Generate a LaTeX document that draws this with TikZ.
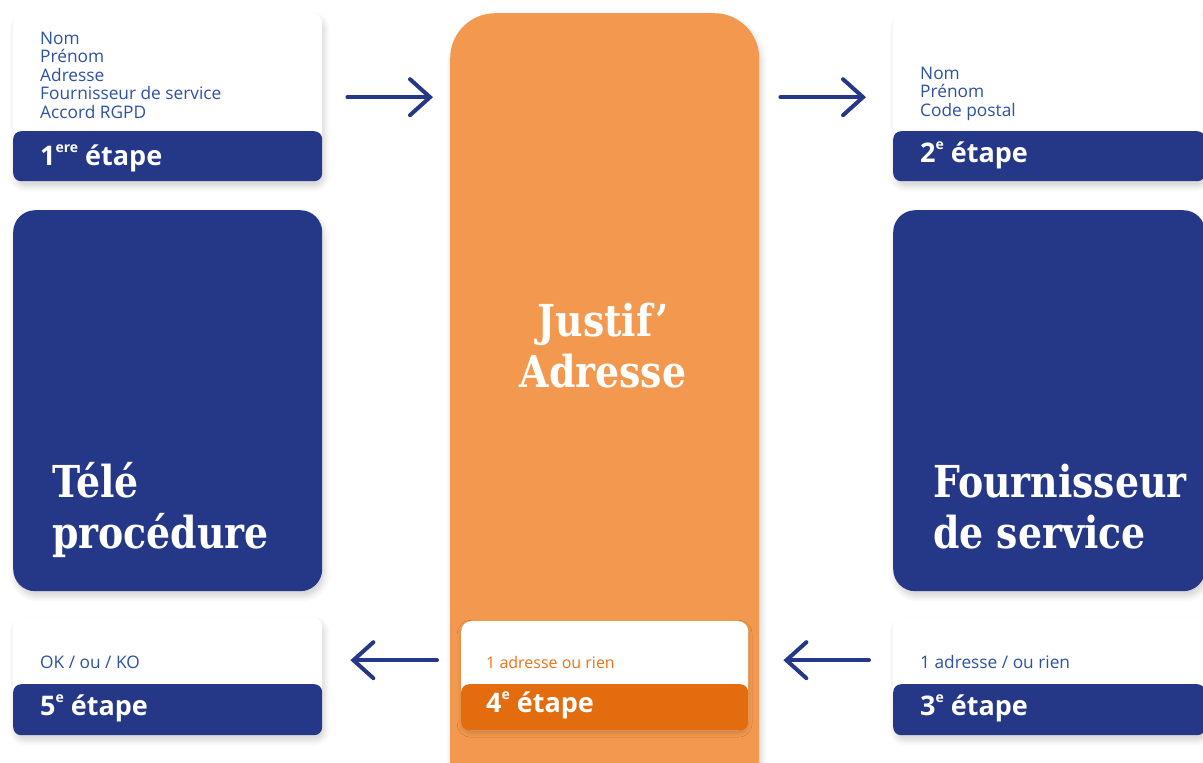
\documentclass[tikz,border=0pt]{standalone}
\usepackage{fontspec}
\setmainfont{Open Sans}
\newfontfamily\slab[FakeStretch=0.86]{DejaVu Serif}
\usetikzlibrary{arrows.meta,shadows.blur}
\definecolor{navy}{HTML}{253887}
\definecolor{orangebg}{HTML}{F2994F}
\definecolor{orangedk}{HTML}{E26C0E}
\definecolor{textblue}{HTML}{2D51A3}
\definecolor{textorange}{HTML}{E8731A}
\newcommand{\supx}[1]{\raisebox{0.45em}{\fontsize{14}{14}\selectfont #1}}
\tikzset{
  sh/.style={blur shadow={shadow blur steps=6, shadow xshift=2pt, shadow yshift=-5pt, shadow opacity=18, shadow blur radius=6pt}},
  card/.style={fill=white, rounded corners=10pt, inner sep=0pt, anchor=north west, sh},
  foot/.style={fill=navy, rounded corners=8pt, inner sep=0pt, anchor=north west},
  bigbox/.style={fill=navy, rounded corners=22pt, inner sep=0pt, anchor=north west, sh},
  info/.style={text=textblue, font=\fontsize{17.3}{18.4}\selectfont, align=left, anchor=base west, inner sep=0pt},
  steplabel/.style={text=white, font=\bfseries\fontsize{27}{28}\selectfont, anchor=base west, inner sep=0pt},
  title/.style={text=white, font=\slab\bfseries\fontsize{44}{50.5}\selectfont, inner sep=0pt},
  arr/.style={draw=navy, line width=4pt, line cap=round, -{Straight Barb[length=20pt,width=36pt,line cap=round]}}
}
\begin{document}
\begin{tikzpicture}[x=1pt,y=-1pt]
\useasboundingbox (0,0) rectangle (1203,763);
% central orange column
\node[fill=orangebg, rounded corners=45pt, inner sep=0pt, anchor=north west, minimum width=309pt, minimum height=800pt, sh] (just) at (450,13) {};
\node[title, align=center, anchor=base] (jt) at (603,387) {Justif’\\Adresse};
% step 1
\node[card, minimum width=309pt, minimum height=168pt] (c1) at (13,13) {};
\node[foot, minimum width=309pt, minimum height=50pt] (f1) at (13,131) {};
\node[info] (t1) at (40,118) {Nom\\Prénom\\Adresse\\Fournisseur de service\\Accord RGPD};
\node[steplabel] (l1) at (40,165) {1\supx{ere} étape};
% step 2
\node[card, minimum width=312pt, minimum height=168pt] (c2) at (893,13) {};
\node[foot, minimum width=312pt, minimum height=50pt] (f2) at (893,131) {};
\node[info] (t2) at (920,116) {Nom\\Prénom\\Code postal};
\node[steplabel] (l2) at (920,162) {2\supx{e} étape};
% big boxes
\node[bigbox, minimum width=309pt, minimum height=381pt] (bl) at (13,210) {};
\node[title, align=left, anchor=base west] (blt) at (52,548) {Télé\\procédure};
\node[bigbox, minimum width=312pt, minimum height=381pt] (br) at (893,210) {};
\node[title, align=left, anchor=base west] (brt) at (933,548) {Fournisseur\\de service};
% step 5
\node[card, minimum width=309pt, minimum height=118pt] (c5) at (13,617) {};
\node[foot, minimum width=309pt, minimum height=51pt] (f5) at (13,684) {};
\node[info] (t5) at (40,668) {OK / ou / KO};
\node[steplabel] (l5) at (40,715) {5\supx{e} étape};
% step 4
\node[fill=white, rounded corners=10pt, inner sep=0pt, anchor=north west, blur shadow={shadow blur steps=5, shadow xshift=0pt, shadow yshift=-3pt, shadow opacity=15, shadow blur radius=4pt}, minimum width=287pt, minimum height=109pt] (c4) at (461,621) {};
\node[foot, fill=orangedk, minimum width=287pt, minimum height=46pt] (f4) at (461,684) {};
\node[info, text=textorange, font=\fontsize{16}{17}\selectfont] (t4) at (486,668) {1 adresse ou rien};
\node[steplabel] (l4) at (486,712) {4\supx{e} étape};
% step 3
\node[card, minimum width=312pt, minimum height=118pt] (c3) at (893,617) {};
\node[foot, minimum width=312pt, minimum height=51pt] (f3) at (893,684) {};
\node[info] (t3) at (920,668) {1 adresse / ou rien};
\node[steplabel] (l3) at (920,715) {3\supx{e} étape};
% arrows
\draw[arr, shorten <=25pt, shorten >=17pt] (c1.east) -- (c1.east -| just.west);
\draw[arr, shorten <=21pt, shorten >=27pt] (just.east |- c2.west) -- (c2.west);
\draw[arr, shorten <=24pt, shorten >=35pt] ([yshift=16pt]c3.west) -- ([yshift=16pt]c3.west -| c4.east);
\draw[arr, shorten <=13pt, shorten >=28pt] ([yshift=16pt]c5.east -| just.west) -- ([yshift=16pt]c5.east);
\end{tikzpicture}
\end{document}
